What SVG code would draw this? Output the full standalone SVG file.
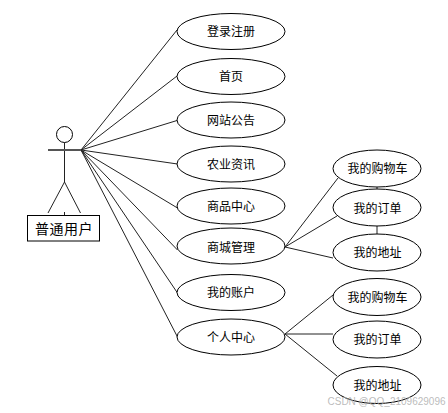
<svg xmlns="http://www.w3.org/2000/svg" width="448" height="413" viewBox="0 0 448 413">
<style>
.s{fill:#fff;stroke:#000;stroke-width:1}
.l{fill:none;stroke:#222;stroke-width:1}
text{font-family:"Noto Sans CJK SC","Liberation Sans",sans-serif;font-size:12px;fill:#000;text-anchor:middle;dominant-baseline:central}
</style>
<rect width="448" height="413" fill="#fff"/>
<g id="connectors" class="l">
<path d="M81 150L177 30M81 150L177 76M81 150L177 120.500M81 150L177.500 164M81 150L177.500 208M81 150L177.500 250M81 150L177.500 293M81 150L177.500 337"/>
<path d="M285 247L338 178M285 247L337 216M285 247L333 258M377 187V189M377 226V234"/>
<path d="M285 334L333 295M285 334L333 334M285 334L337 376"/>
</g>
<g id="actor">
<circle cx="64.500" cy="134.500" r="8" class="s"/>
<path class="l" d="M64.500 142.500V182M48 150H81M64.500 182L48 213M64.500 182L80.500 213M64.500 212V215"/>
<path d="M48 150H81" stroke="#555" stroke-width="2"/>
<rect x="27.500" y="215.500" width="72" height="25.500" class="s"/>
<text x="64" y="227.500" style="font-size:14px;letter-spacing:.5px">普通用户</text>
</g>
<g id="n1"><ellipse cx="231" cy="31.500" rx="54" ry="18" class="s"/><text x="231" y="30.500">登录注册</text></g>
<g id="n2"><ellipse cx="231" cy="76.500" rx="54" ry="18" class="s"/><text x="231" y="75.500">首页</text></g>
<g id="n3"><ellipse cx="231" cy="120" rx="54" ry="18" class="s"/><text x="231" y="119">网站公告</text></g>
<g id="n4"><ellipse cx="231" cy="164" rx="54" ry="18" class="s"/><text x="231" y="163.500">农业资讯</text></g>
<g id="n5"><ellipse cx="231" cy="206" rx="54" ry="18" class="s"/><text x="231" y="205.500">商品中心</text></g>
<g id="n6"><ellipse cx="231" cy="246" rx="54" ry="18" class="s"/><text x="231" y="246.500">商城管理</text></g>
<g id="n7"><ellipse cx="231" cy="292.500" rx="54" ry="18" class="s"/><text x="231" y="291.500">我的账户</text></g>
<g id="n8"><ellipse cx="231" cy="337" rx="54" ry="18" class="s"/><text x="231" y="336.500">个人中心</text></g>
<g id="n9"><ellipse cx="377" cy="168.500" rx="44" ry="18.500" class="s"/><text x="377.500" y="167.500">我的购物车</text></g>
<g id="n10"><ellipse cx="377" cy="207.500" rx="44" ry="18.500" class="s"/><text x="377.500" y="207">我的订单</text></g>
<g id="n11"><ellipse cx="377" cy="252.500" rx="44" ry="18.500" class="s"/><text x="377.500" y="251.500">我的地址</text></g>
<g id="n12"><ellipse cx="377" cy="297" rx="44" ry="18.500" class="s"/><text x="377.500" y="296">我的购物车</text></g>
<g id="n13"><ellipse cx="377" cy="339.500" rx="44" ry="18.500" class="s"/><text x="377.500" y="338.500">我的订单</text></g>
<g id="n14"><ellipse cx="377" cy="385" rx="44" ry="18.500" class="s"/><text x="377.500" y="384">我的地址</text></g>
<text x="386.500" y="401" style="font-family:'Liberation Sans',sans-serif;font-size:10px;fill:#aaa;fill-opacity:.8">CSDN @QQ_2109629096</text>
</svg>
